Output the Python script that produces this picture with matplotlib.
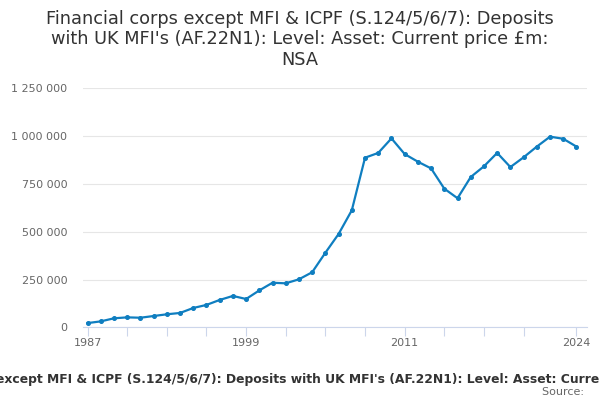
import matplotlib
matplotlib.use("Agg")
import matplotlib.pyplot as plt
from matplotlib.ticker import FuncFormatter, FixedLocator

years = list(range(1987, 2025))
values = [22000, 31000, 47000, 52000, 50000, 59000, 68000, 75000, 101000, 117000,
          143000, 164000, 148000, 193000, 233000, 230000, 251000, 288000, 390000, 488000,
          612000, 887000, 912000, 988000, 906000, 866000, 831000, 725000, 675000, 786000,
          842000, 912000, 838000, 889000, 945000, 997000, 986000, 945000]
yticks = [0, 250000, 500000, 750000, 1000000, 1250000]
xtick_marks = list(range(1987, 2021, 3)) + [2024]
xtick_labels = [1987, 1999, 2011, 2024]

title = ("Financial corps except MFI & ICPF (S.124/5/6/7): Deposits\n"
         "with UK MFI's (AF.22N1): Level: Asset: Current price £m:\nNSA")
caption = ("Financial corps except MFI & ICPF (S.124/5/6/7): Deposits with UK MFI's "
           "(AF.22N1): Level: Asset: Current price £m: NSA")

fig = plt.figure(figsize=(6, 4), dpi=100)
ax = fig.add_axes([82.5/600, 1-327.3/400, (586.5-82.5)/600, (327.3-88.3)/400])

ax.plot(years, values, color="#0f7ec0", lw=1.6, marker="o", ms=2.6, zorder=3)

ax.set_ylim(0, 1250000)
ax.set_xlim(1986.62, 2024.76)
ax.yaxis.set_major_locator(FixedLocator(yticks))
ax.yaxis.set_major_formatter(FuncFormatter(lambda v, p: f"{int(v):,}".replace(",", " ")))
ax.grid(axis="y", color="#e6e6e6", lw=0.8)
ax.set_axisbelow(True)

ax.xaxis.set_major_locator(FixedLocator(xtick_marks))
ax.set_xticklabels([str(y) if y in xtick_labels else "" for y in xtick_marks])
ax.tick_params(axis="x", length=6.5, width=0.8, color="#ccd6eb", labelsize=8,
               labelcolor="#666666", pad=1)
ax.tick_params(axis="y", length=0, labelsize=8, labelcolor="#666666", pad=11)

for s in ["top", "right", "left"]:
    ax.spines[s].set_visible(False)
ax.spines["bottom"].set_color("#ccd6eb")
ax.spines["bottom"].set_linewidth(0.8)

fig.text(0.5, 1-39.5/400, title, ha="center", va="center", fontsize=12.75,
         color="#333333", linespacing=1.15)
fig.text(0.503, 1-380/400, caption, ha="center", va="center", fontsize=8.9,
         fontweight="bold", color="#333333")
fig.text(588/600, 1-392/400, "Source: ", ha="right", va="center", fontsize=8,
         color="#666666")

fig.savefig("out.png", dpi=100)
